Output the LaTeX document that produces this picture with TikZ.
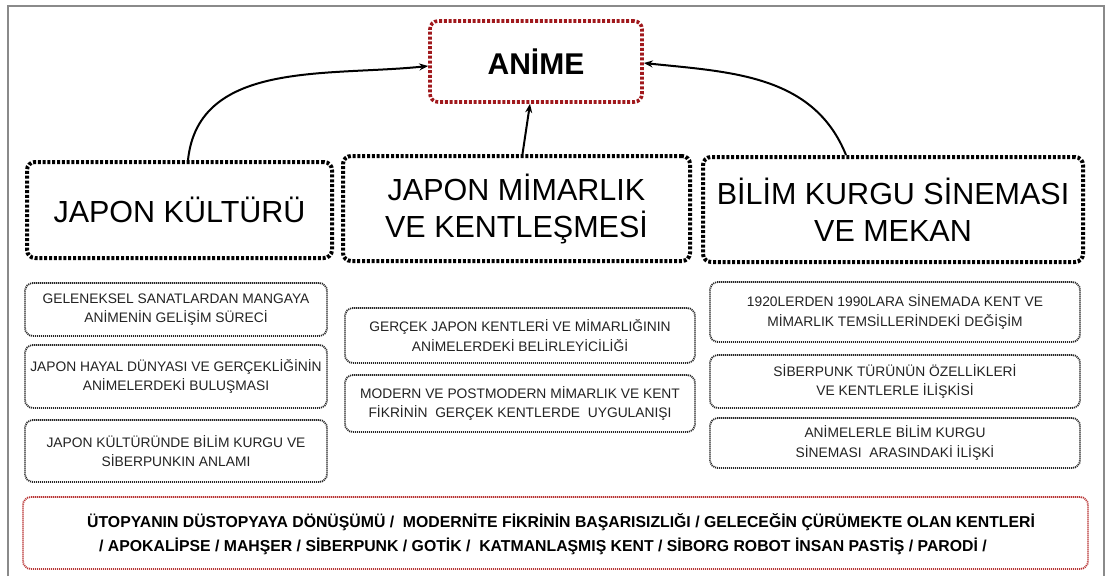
\documentclass[tikz,border=0pt]{standalone}
\usepackage{fontspec}
\setmainfont{Liberation Sans}
\usetikzlibrary{arrows.meta}
\definecolor{darkred}{HTML}{A0181C}
\definecolor{lightred}{HTML}{B83434}
\definecolor{framegray}{HTML}{8A8A8A}
\definecolor{subtext}{HTML}{222222}
\tikzset{
  mainbox/.style={draw=black, line width=4pt, dash pattern=on 3pt off 1.8pt, rounded corners=8pt, align=center, inner sep=0pt, font=\fontsize{30.5}{37}\selectfont},
  animebox/.style={draw=darkred, line width=3.6pt, dash pattern=on 3pt off 1.8pt, rounded corners=8pt, inner sep=0pt, font=\fontsize{30}{36}\selectfont\bfseries},
  subbox/.style={draw=black!85, line width=1.8pt, dash pattern=on 1.1pt off 0.9pt, rounded corners=8pt, align=center, inner sep=0pt, text=subtext, font=\fontsize{13.8}{19.5}\selectfont},
  redbox/.style={draw=lightred, line width=1.8pt, dash pattern=on 1.1pt off 0.9pt, rounded corners=8pt, inner sep=0pt},
  conn/.style={line width=2pt, -{Stealth[length=9pt,width=7pt]}},
}
\begin{document}
\begin{tikzpicture}[x=1pt,y=-1pt]
\useasboundingbox (0,0) rectangle (1105,576);
% frame
\draw[framegray, line width=1.5pt] (8,576) -- (8,6) -- (1104,6) -- (1104,576);

\node[animebox, minimum width=212pt, minimum height=81pt] (anime) at (536,61.5) {ANİME};

\node[mainbox, minimum width=305pt, minimum height=96pt] (jk) at (179.5,210) {JAPON KÜLTÜRÜ};
\node[mainbox, minimum width=347pt, minimum height=105pt] (jm) at (516.5,208.5) {JAPON MİMARLIK\\VE KENTLEŞMESİ};
\node[mainbox, minimum width=380pt, minimum height=105pt] (bk) at (893,209.5) {BİLİM KURGU SİNEMASI\\VE MEKAN};

\node[subbox, minimum width=302pt, minimum height=53pt] (l1) at (176,309.5) {GELENEKSEL SANATLARDAN MANGAYA\\ANİMENİN GELİŞİM SÜRECİ};
\node[subbox, minimum width=302pt, minimum height=63pt] (l2) at (176,376.5) {JAPON HAYAL DÜNYASI VE GERÇEKLİĞİNİN\\ANİMELERDEKİ BULUŞMASI};
\node[subbox, minimum width=302pt, minimum height=62pt] (l3) at (176,451) {JAPON KÜLTÜRÜNDE BİLİM KURGU VE\\SİBERPUNKIN ANLAMI};

\node[subbox, minimum width=350pt, minimum height=55pt] (m1) at (520,335.5) {GERÇEK JAPON KENTLERİ VE MİMARLIĞININ\\ANİMELERDEKİ BELİRLEYİCİLİĞİ};
\node[subbox, minimum width=350pt, minimum height=57pt] (m2) at (520,403.5) {MODERN VE POSTMODERN MİMARLIK VE KENT\\FİKRİNİN~ GERÇEK KENTLERDE~ UYGULANIŞI};

\node[subbox, minimum width=370pt, minimum height=60pt] (r1) at (895,312) {1920LERDEN 1990LARA SİNEMADA KENT VE\\MİMARLIK TEMSİLLERİNDEKİ DEĞİŞİM};
\node[subbox, minimum width=370pt, minimum height=53pt] (r2) at (895,381.5) {SİBERPUNK TÜRÜNÜN ÖZELLİKLERİ\\VE KENTLERLE İLİŞKİSİ};
\node[subbox, minimum width=370pt, minimum height=50pt] (r3) at (895,443) {ANİMELERLE BİLİM KURGU\\SİNEMASI~ ARASINDAKİ İLİŞKİ};

\node[redbox, minimum width=1065pt, minimum height=72pt] (bottom) at (555.5,533) {};
\node[anchor=west, align=left, inner sep=0pt, font=\fontsize{15.8}{24}\selectfont\bfseries] (btext) at (87,534) {ÜTOPYANIN DÜSTOPYAYA DÖNÜŞÜMÜ /~ MODERNİTE FİKRİNİN BAŞARISIZLIĞI / GELECEĞİN ÇÜRÜMEKTE OLAN KENTLERİ\\\hspace*{12pt}/ APOKALİPSE / MAHŞER / SİBERPUNK / GOTİK /~ KATMANLAŞMIŞ KENT / SİBORG ROBOT İNSAN PASTİŞ / PARODİ /};

% connectors
\draw[conn] ([xshift=8.5pt]jk.north) to[out=84,in=186] ([yshift=-4.5pt]anime.west);
\draw[conn] ([xshift=6pt]jm.north) -- ([xshift=-6pt]anime.south);
\draw[conn] ([xshift=-47pt]bk.north) to[out=112,in=-6] ([yshift=-1.5pt]anime.east);
\end{tikzpicture}
\end{document}
